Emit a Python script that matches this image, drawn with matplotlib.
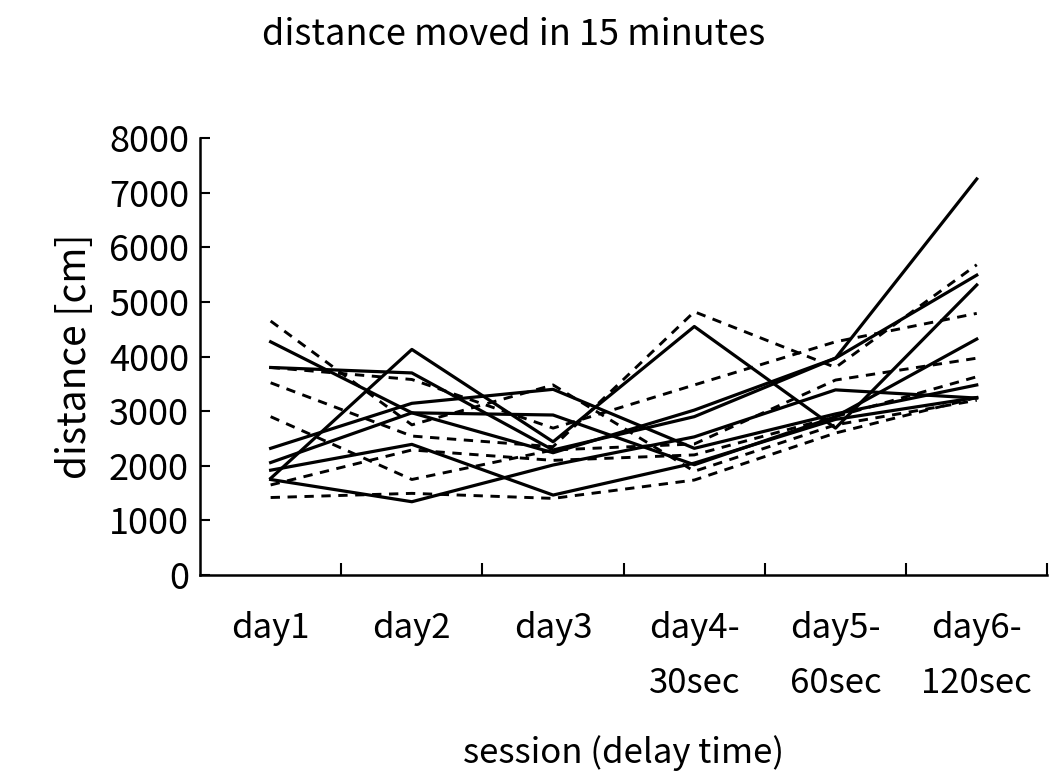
import matplotlib
matplotlib.use("Agg")
import matplotlib.pyplot as plt

plt.rcParams['font.family'] = ['Noto Sans CJK JP', 'DejaVu Sans']

categories = ["day1", "day2", "day3", "day4-\n30sec", "day5-\n60sec", "day6-\n120sec"]

# solid-line animals
solid_series = [
    [1770, 4130, 2440, 4550, 2690, 5310],
    [4270, 2970, 2240, 3020, 3970, 7250],
    [3800, 3700, 2290, 2900, 3970, 5490],
    [2060, 2970, 2930, 2020, 2900, 4320],
    [2320, 3144, 3400, 2320, 2950, 3480],
    [1920, 2393, 1465, 2050, 2850, 3250],
    [1750, 1343, 2015, 2530, 3390, 3240],
]

# dashed-line animals
dashed_series = [
    [4650, 2750, 3480, 1900, 2750, 3200],
    [3800, 3580, 2690, 3480, 4270, 4790],
    [3520, 2545, 2350, 4820, 3800, 5680],
    [2900, 1750, 2290, 2400, 3570, 3970],
    [1650, 2290, 2100, 2200, 2900, 3630],
    [1420, 1496, 1404, 1740, 2600, 3250],
]

yticks = [0, 1000, 2000, 3000, 4000, 5000, 6000, 7000, 8000]

fig = plt.figure(figsize=(10.5, 7.73), dpi=100)
ax = fig.add_axes([0.1905, 0.256, 0.807, 0.5655])

x = list(range(len(categories)))
for s in dashed_series:
    ax.plot(x, s, color='black', lw=2.1, linestyle=(0, (3.2, 2.6)))
for s in solid_series:
    ax.plot(x, s, color='black', lw=2.3, linestyle='-')

ax.set_xlim(-0.5, 5.5)
ax.set_ylim(0, 8000)
ax.spines['top'].set_visible(False)
ax.spines['right'].set_visible(False)
ax.spines['left'].set_linewidth(1.8)
ax.spines['bottom'].set_linewidth(1.8)

ax.set_yticks(yticks)
ax.set_yticklabels([str(v) for v in yticks])
ax.tick_params(axis='y', direction='in', length=7, width=1.5, labelsize=26, pad=8)

ax.set_xticks([i + 0.5 for i in range(len(categories))])
ax.set_xticklabels([])
ax.set_xticks(x, minor=True)
ax.set_xticklabels(categories, minor=True)
ax.tick_params(axis='x', which='major', direction='in', length=9, width=1.5)
ax.tick_params(axis='x', which='minor', length=0, labelsize=25, pad=26)
for lbl in ax.get_xticklabels(minor=True):
    lbl.set_linespacing(1.75)

ax.set_ylabel("distance [cm]", fontsize=28, labelpad=10)
ax.set_xlabel("session (delay time)", fontsize=25, labelpad=24)
fig.text(0.489, 0.955, "distance moved in 15 minutes", ha='center', va='center', fontsize=26)

fig.savefig("out.png", dpi=100)
